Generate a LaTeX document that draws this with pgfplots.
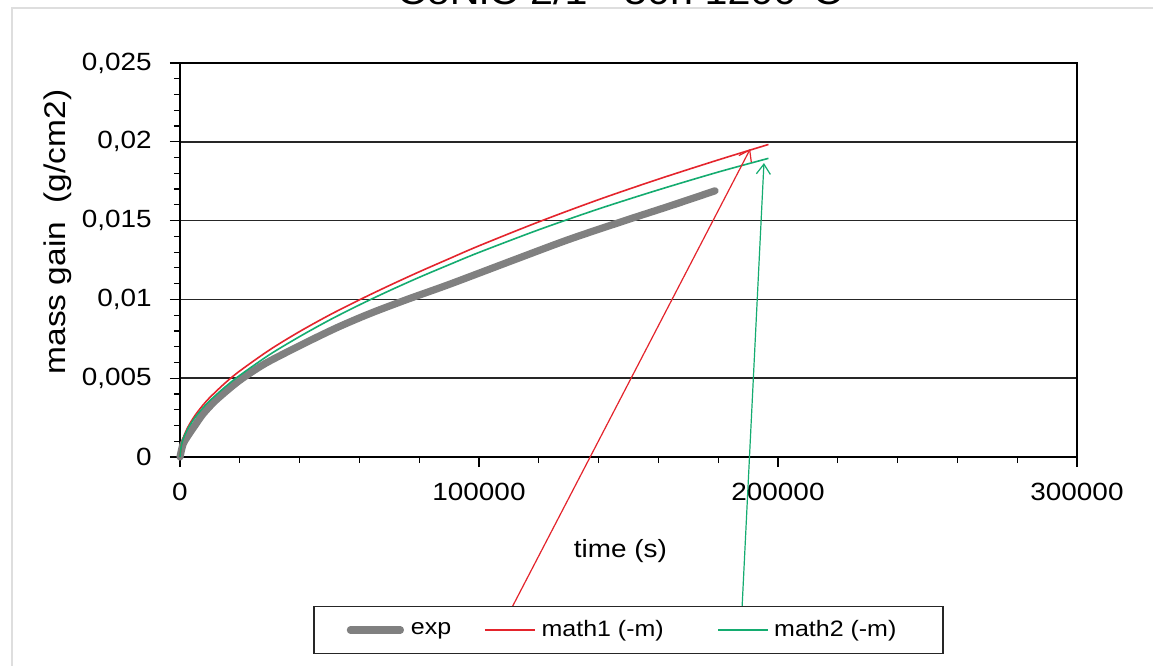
\documentclass[border=0pt]{standalone}
\usepackage{fontspec}
\setmainfont{Liberation Sans}[FakeStretch=1.12]
\usepackage{pgfplots}
\pgfplotsset{compat=1.18}
\usetikzlibrary{arrows.meta}
\definecolor{expgray}{RGB}{128,128,128}
\definecolor{mred}{RGB}{228,36,44}
\definecolor{mgreen}{RGB}{20,172,112}
\definecolor{framegray}{RGB}{222,222,222}
\begin{document}
\begin{tikzpicture}
\clip (-90bp,-104.5bp) rectangle (486.5bp,228.5bp);
\path[use as bounding box] (-90bp,-104.5bp) rectangle (486.5bp,228.5bp);
\fill[white] (-90bp,-104.5bp) rectangle (486.5bp,228.5bp);
\draw[framegray, line width=0.8bp] (-84bp,-120bp) -- (-84bp,224.5bp) -- (500bp,224.5bp);
\node[anchor=base, inner sep=0pt, font=\fontsize{18.5}{20}\selectfont] at (220bp,226bp) {CoNiC 2/1 - 50h 1200°C};
\begin{axis}[
  at={(0,0)}, anchor=south west,
  scale only axis, width=448.5bp, height=197bp,
  xmin=0, xmax=300000, ymin=0, ymax=0.025,
  xtick={0,100000,200000,300000},
  xticklabels={0,100000,200000,300000},
  minor x tick num=4,
  ytick={0,0.005,0.01,0.015,0.02,0.025},
  yticklabels={0,{0,005},{0,01},{0,015},{0,02},{0,025}},
  minor y tick num=4,
  xtick pos=bottom, ytick pos=left,
  scaled x ticks=false, scaled y ticks=false,
  tick align=outside,
  major tick length=5bp, minor tick length=3bp,
  every tick/.style={black, line width=0.6bp},
  ymajorgrids,
  major grid style={black!85, line width=0.9bp},
  axis line style={black, line width=0.8bp},
  ticklabel style={font=\fontsize{12.5}{14}\selectfont},
  yticklabel style={anchor=east, inner sep=0pt, xshift=-9bp},
  xticklabel style={anchor=north, inner sep=0pt, yshift=-8bp},
  xlabel={time (s)},
  ylabel={mass gain\ \ (g/cm2)},
  xlabel style={font=\fontsize{12.5}{14}\selectfont, at={(axis description cs:0.491,-0.2386)}, anchor=center},
  ylabel style={font=\fontsize{15}{17}\selectfont, at={(axis description cs:-0.136,0.571)}, anchor=center},
  clip=false,
  legend columns=3,
  legend style={at={(axis description cs:0.5,-0.439)}, anchor=center,
    draw=black!85, line width=0.8bp, inner xsep=16.5bp, inner ysep=7bp,
    font=\fontsize{11.2}{13}\selectfont,
    nodes={inner sep=0pt, anchor=west}, column sep=0pt},
  legend image code/.code={\draw[#1] (0bp,0bp) -- (25bp,0bp);},
]
\addplot[expgray, line width=3.6bp, line cap=round, line join=round, smooth, tension=0.5] coordinates {
(0,0) (1000,0.0008) (2500,0.0013) (5000,0.0020) (7800,0.00275)
(12000,0.0036) (18960,0.00472) (25000,0.00552) (30100,0.0061) (41270,0.00718)
(52400,0.0082) (63500,0.0091) (76000,0.0100) (90000,0.01095)
(110940,0.01245) (130000,0.0138) (148800,0.0150) (165000,0.0160) (178930,0.01689)
};
\addlegendentry{\makebox[40bp][l]{\hspace{3.5bp}exp}}
\addplot[mred, line width=0.8bp, smooth, tension=0.5] coordinates {
(0,0) (500,0.00081) (1500,0.00142) (3000,0.00202) (5000,0.00263) (7500,0.00325)
(10000,0.00378) (15000,0.00468) (20000,0.00546) (30000,0.0068) (40000,0.00796)
(50000,0.00901) (60000,0.00997) (70000,0.01088) (80000,0.01175) (90000,0.01258)
(100000,0.01340) (120000,0.01492) (140000,0.01633) (160000,0.01763) (180000,0.01885)
(196800,0.01983)
};
\addlegendentry{\makebox[91bp][l]{\hspace{3bp}math1 (-m)}}
\addplot[mgreen, line width=0.8bp, smooth, tension=0.5] coordinates {
(0,0) (500,0.00078) (1500,0.00136) (3000,0.00192) (5000,0.0025) (7500,0.00308)
(10000,0.00358) (15000,0.00443) (20000,0.00518) (30000,0.0065) (40000,0.00764)
(50000,0.00869) (60000,0.00965) (70000,0.01055) (80000,0.0114) (90000,0.0122)
(100000,0.01298) (120000,0.01442) (140000,0.01574) (160000,0.01695) (180000,0.01808)
(196800,0.01895)
};
\addlegendentry{\makebox[70.5bp][l]{\hspace{2.5bp}math2 (-m)}}
\draw[mred, line width=0.6bp, -{Straight Barb[length=5bp,width=7bp]}]
  (axis cs:109700,-0.01003) -- (axis cs:190700,0.01954);
\draw[mgreen, line width=0.6bp, -{Straight Barb[length=5bp,width=7bp]}]
  (axis cs:187860,-0.01003) -- (axis cs:195300,0.01865);
\end{axis}
\end{tikzpicture}
\end{document}
